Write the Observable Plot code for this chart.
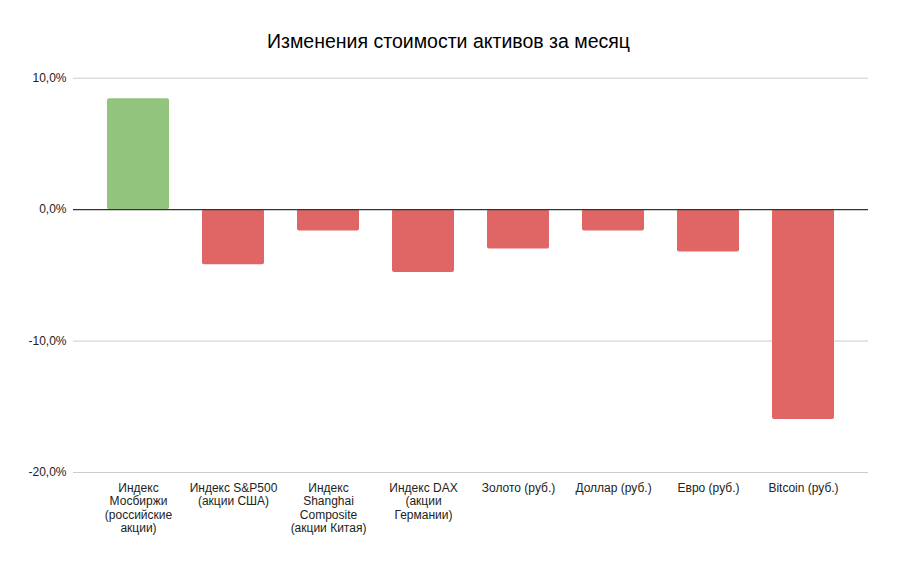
<!DOCTYPE html>
<html>
<head>
<meta charset="utf-8">
<script src="https://cdn.jsdelivr.net/npm/d3@7"></script>
<script src="https://cdn.jsdelivr.net/npm/@observablehq/plot@0.6"></script>
<style>
  html, body { margin: 0; padding: 0; background: #fff; }
  #wrap { position: relative; width: 897px; height: 563px; font-family: "Liberation Sans", Arial, sans-serif; }
  #title { position: absolute; left: 0; top: 31px; width: 897px; text-align: center; font-size: 19.5px; line-height: 20px; color: #000; }
</style>
</head>
<body>
<div id="wrap"><div id="title">Изменения стоимости активов за месяц</div></div>
<script>
const categories = [
  "Индекс Мосбиржи (российские акции)",
  "Индекс S&P500 (акции США)",
  "Индекс Shanghai Composite (акции Китая)",
  "Индекс DAX (акции Германии)",
  "Золото (руб.)",
  "Доллар (руб.)",
  "Евро (руб.)",
  "Bitcoin (руб.)"
];
const tickLabels = [
  "Индекс\nМосбиржи\n(российские\nакции)",
  "Индекс S&P500\n(акции США)",
  "Индекс\nShanghai\nComposite\n(акции Китая)",
  "Индекс DAX\n(акции\nГермании)",
  "Золото (руб.)",
  "Доллар (руб.)",
  "Евро (руб.)",
  "Bitcoin (руб.)"
];
const values = [8.43, -4.19, -1.62, -4.79, -2.99, -1.62, -3.22, -15.96];
const yTicks = [10, 0, -10, -20];

const data = categories.map((c, i) => ({cat: c, label: tickLabels[i], value: values[i]}));
const labelOf = new Map(data.map(d => [d.cat, d.label]));
const fmt = v => v.toFixed(1).replace(".", ",") + "%";

const chart = Plot.plot({
  width: 897,
  height: 563,
  marginTop: 77.7,
  marginBottom: 91,
  marginLeft: 73,
  marginRight: 29,
  style: {fontFamily: "'Liberation Sans', Arial, sans-serif", fontSize: "12px", color: "#222", background: "transparent"},
  x: {domain: categories, paddingInner: 0.35, paddingOuter: 0.34, label: null},
  y: {domain: [-20, 10], label: null},
  marks: [
    Plot.ruleY(yTicks.filter(t => t !== 0), {stroke: "#cccccc", strokeWidth: 1}),
    Plot.barY(data, {x: "cat", y: "value", fill: d => d.value >= 0 ? "#93c47d" : "#e06666", rx: 2}),
    Plot.ruleY([0], {stroke: "#333333", strokeWidth: 1.2}),
    Plot.axisY({ticks: yTicks, tickFormat: fmt, tickSize: 0, tickPadding: 7, label: null, fontSize: 12, fill: "#222"}),
    Plot.axisX({tickFormat: d => labelOf.get(d), tickSize: 0, tickPadding: 10, label: null, fontSize: 12, lineHeight: 1.12, fill: "#222", lineAnchor: "top"})
  ]
});
document.getElementById("wrap").appendChild(chart);
chart.style.position = "absolute";
chart.style.left = "0";
chart.style.top = "0";
</script>
</body>
</html>
